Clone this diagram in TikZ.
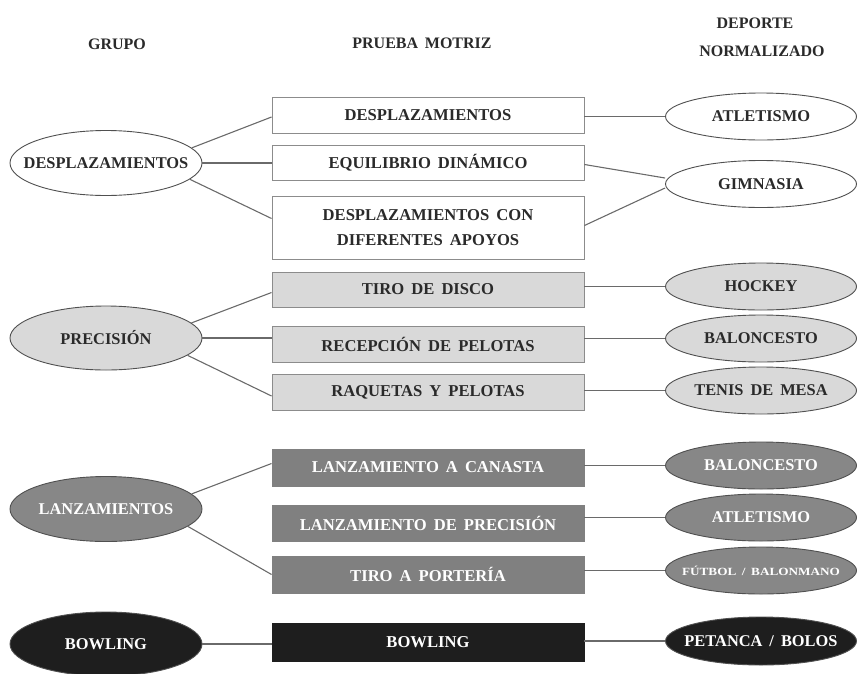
\documentclass[tikz,border=0pt]{standalone}
\usepackage{fontspec}
\usepackage{graphicx}
\setmainfont{Liberation Serif}[WordSpace=1.7]
\usetikzlibrary{shapes.geometric}
\definecolor{lightfill}{HTML}{D9D9D9}
\definecolor{midfill}{HTML}{808080}
\definecolor{midell}{HTML}{878787}
\definecolor{darkfill}{HTML}{1E1E1E}
\definecolor{txt}{HTML}{2A2A2A}
\definecolor{edgec}{HTML}{8C8C8C}
\definecolor{elledge}{HTML}{505050}
\definecolor{wirec}{HTML}{6A6A6A}
\newcommand\zerowd[1]{\makebox[0pt]{#1}}
\tikzset{
  head/.style={font=\fontsize{16}{20}\selectfont\bfseries, text=txt, inner sep=0pt},
  box/.style={rectangle, draw=edgec, line width=0.9pt, minimum width=312pt, minimum height=36pt, inner sep=0pt, font=\fontsize{16.6}{25}\selectfont\bfseries, text=txt, align=center},
  wbox/.style={box, fill=white},
  lbox/.style={box, fill=lightfill},
  mbox/.style={box, fill=midfill, draw=midfill, text=white},
  kbox/.style={box, fill=darkfill, draw=darkfill, text=white},
  ell/.style={ellipse, draw=elledge, line width=0.9pt, inner sep=0pt, font=\fontsize{16.4}{20}\selectfont\bfseries, text=txt},
  grp/.style={ell, minimum width=192pt, minimum height=65pt},
  dep/.style={ell, minimum width=191pt, minimum height=47pt},
  wfill/.style={fill=white},
  lfill/.style={fill=lightfill},
  mfill/.style={fill=midell, text=white},
  kfill/.style={fill=darkfill, text=white},
  wire/.style={draw=wirec, line width=1.1pt}
}
\begin{document}
\begin{tikzpicture}[x=1pt,y=-1pt]
\useasboundingbox (0,0) rectangle (857,673);
% headers
\node[head] (hg) at (117,44) {GRUPO};
\node[head] (hp) at (422,43) {PRUEBA MOTRIZ};
\node[head] (hd1) at (755,23) {DEPORTE};
\node[head] (hd2) at (762,51) {NORMALIZADO};
% groups
\node[grp, wfill] (g1) at (106,163) {\zerowd{DESPLAZAMIENTOS}};
\node[grp, lfill, minimum height=64pt] (g2) at (106,338) {\zerowd{PRECISIÓN}};
\node[grp, mfill] (g3) at (106,509) {\zerowd{LANZAMIENTOS}};
\node[grp, kfill, minimum height=64pt] (g4) at (106,644) {\zerowd{BOWLING}};
% tests
\node[wbox] (r1) at (428,115) {DESPLAZAMIENTOS};
\node[wbox, minimum height=35pt] (r2) at (428,162.5) {EQUILIBRIO DINÁMICO};
\node[wbox, minimum height=63pt] (r3) at (428,227.5) {DESPLAZAMIENTOS CON\\DIFERENTES APOYOS};
\node[lbox, minimum height=35pt] (p1) at (428,289.5) {TIRO DE DISCO};
\node[lbox] (p2) at (428,344) {RECEPCIÓN DE PELOTAS};
\node[lbox] (p3) at (428,392) {RAQUETAS Y PELOTAS};
\node[mbox, minimum height=37pt] (m1) at (428,467.5) {LANZAMIENTO A CANASTA};
\node[mbox] (m2) at (428,523) {LANZAMIENTO DE PRECISIÓN};
\node[mbox, minimum height=37pt] (m3) at (428,574.5) {TIRO A PORTERÍA};
\node[kbox, minimum height=38pt] (k1) at (428,642) {BOWLING};
% sports
\node[dep, wfill] (d1) at (761,116.5) {\zerowd{ATLETISMO}};
\node[dep, wfill] (d2) at (761,184) {\zerowd{GIMNASIA}};
\node[dep, lfill] (d3) at (761,286.5) {\zerowd{HOCKEY}};
\node[dep, lfill] (d4) at (761,338.5) {\zerowd{BALONCESTO}};
\node[dep, lfill] (d5) at (761,390.5) {\zerowd{TENIS DE MESA}};
\node[dep, mfill] (d6) at (761,465.5) {\zerowd{BALONCESTO}};
\node[dep, mfill] (d7) at (761,517.5) {\zerowd{ATLETISMO}};
\node[dep, mfill] (d8) at (761,570.5) {\zerowd{\fontsize{11}{13}\selectfont\scalebox{1.2}[1]{FÚTBOL / BALONMANO}}};
\node[dep, kfill, minimum height=48pt] (d9) at (761,641) {\zerowd{PETANCA / BOLOS}};
% connectors left
\draw[wire] (g1.10) -- ([yshift=-2pt]r1.west);
\draw[wire] (g1.east) -- (g1.east -| r2.west);
\draw[wire] (g1.-11) -- ([yshift=9pt]r3.west);
\draw[wire] (g2.10) -- ([yshift=-3pt]p1.west);
\draw[wire] (g2.east) -- (g2.east -| p2.west);
\draw[wire] (g2.-12) -- ([yshift=-4pt]p3.west);
\draw[wire] (g3.10) -- ([yshift=4pt]m1.west);
\draw[wire] (g3.-12) -- (m3.west);
\draw[wire] (g4.east) -- (g4.east -| k1.west);
% connectors right
\draw[wire] (d1.west) -- (d1.west -| r1.east);
\draw[wire] ([yshift=-2pt]r2.east) -- ([yshift=6pt]d2.west);
\draw[wire] ([yshift=2pt]r3.east) -- ([yshift=-4pt]d2.west);
\draw[wire] (d3.west) -- (d3.west -| p1.east);
\draw[wire] (d4.west) -- (d4.west -| p2.east);
\draw[wire] (d5.west) -- (d5.west -| p3.east);
\draw[wire] (d6.west) -- (d6.west -| m1.east);
\draw[wire] (d7.west) -- (d7.west -| m2.east);
\draw[wire] (d8.west) -- (d8.west -| m3.east);
\draw[wire] (d9.west) -- (d9.west -| k1.east);
\end{tikzpicture}
\end{document}
